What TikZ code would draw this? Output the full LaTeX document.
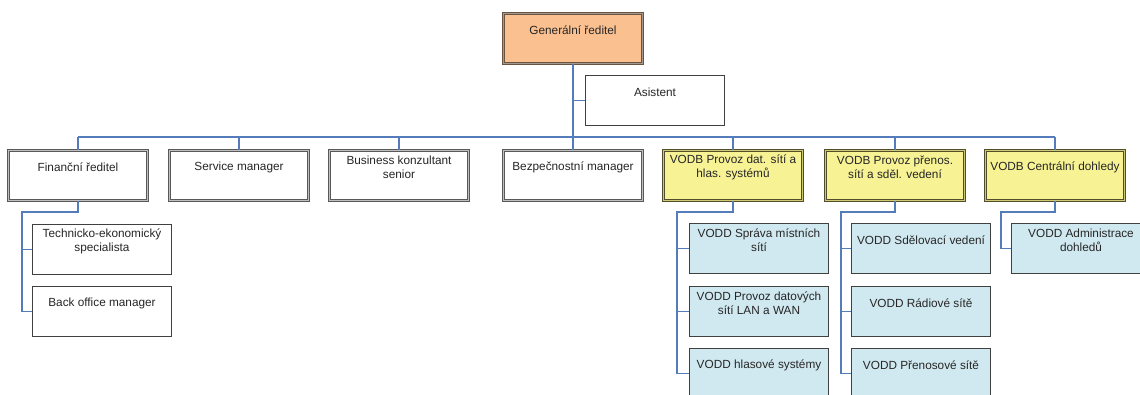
\documentclass[tikz,border=0pt]{standalone}
\usepackage{fontspec}
\setmainfont{Liberation Sans}
\usetikzlibrary{positioning}

\definecolor{linkblue}{RGB}{84,124,186}
\definecolor{ceofill}{RGB}{250,192,144}
\definecolor{ceoline}{RGB}{105,84,66}
\definecolor{vodbfill}{RGB}{247,242,148}
\definecolor{voddfill}{RGB}{208,233,240}
\definecolor{boxline}{RGB}{64,64,64}

\newcommand{\boxlbl}[1]{\parbox[b][34pt][c]{138pt}{\centering #1}}

\tikzset{
  unit/.style={rectangle, inner sep=0pt, minimum width=139pt, text height=34pt, text depth=16pt,
    anchor=north, font=\fontsize{11.8}{13.5}\selectfont, text=black!85},
  ceo/.style={unit, draw=ceoline, double=ceoline!60, double distance=1.2pt, line width=0.9pt, fill=ceofill},
  head/.style={unit, draw=black!65, double=gray!50, double distance=1.2pt, line width=0.8pt, fill=white},
  vodb/.style={head, fill=vodbfill, draw=black!55!olive, double=olive!45},
  sub/.style={unit, draw=boxline, line width=0.9pt, fill=white},
  vodd/.style={sub, fill=voddfill},
  link/.style={draw=linkblue, line width=1.3pt}
}

\begin{document}
\begin{tikzpicture}[x=1pt, y=-1pt]
\useasboundingbox (0,0) rectangle (1140,394);

% vedeni
\node[ceo] (gr) at (573,13) {\boxlbl{Generální ředitel}};
\node[sub] (asi) at (655,75) {\boxlbl{Asistent}};

% prvni uroven
\node[head] (fin) at (78,150) {\boxlbl{Finanční ředitel}};
\node[head] (srv) at (239,150) {\boxlbl{Service manager}};
\node[head] (bus) at (399,150) {\boxlbl{Business konzultant\\senior}};
\node[head] (bez) at (573,150) {\boxlbl{Bezpečnostní manager}};
\node[vodb] (dat) at (733,150) {\boxlbl{VODB Provoz dat. sítí a\\hlas. systémů}};
\node[vodb] (pre) at (895,150) {\boxlbl{VODB Provoz přenos.\\sítí a sděl. vedení}};
\node[vodb] (cen) at (1055,150) {\boxlbl{VODB Centrální dohledy}};

% podrizeni
\node[sub] (tek) at (102,224) {\boxlbl{Technicko-ekonomický\\specialista}};
\node[sub] (bof) at (102,286) {\boxlbl{Back office manager}};

\node[vodd] (spr) at (759,223) {\boxlbl{VODD Správa místních\\sítí}};
\node[vodd] (lan) at (759,286) {\boxlbl{VODD Provoz datových\\sítí LAN a WAN}};
\node[vodd] (hls) at (759,348) {\boxlbl{VODD hlasové systémy}};

\node[vodd] (sdv) at (921,223) {\boxlbl{VODD Sdělovací vedení}};
\node[vodd] (rad) at (921,286) {\boxlbl{VODD Rádiové sítě}};
\node[vodd] (prs) at (921,348) {\boxlbl{VODD Přenosové sítě}};

\node[vodd] (adm) at (1081,223) {\boxlbl{VODD Administrace\\dohledů}};

% spoje
\coordinate (rail) at (0,137);
\draw[link] (gr.south) -- (gr.south |- rail);
\draw[link] (asi.west) -- (asi.west -| gr.south);
\draw[link] (fin.north |- rail) -- (cen.north |- rail);
\foreach \n in {fin,srv,bus,bez,dat,pre,cen}
  \draw[link] (\n.north) -- (\n.north |- rail);

\coordinate (finsplit) at (22,212);
\draw[link] (fin.south) -- (fin.south |- finsplit) -- (finsplit) |- (tek.west);
\draw[link] (finsplit) |- (bof.west);

\coordinate (datsplit) at (677,212);
\draw[link] (dat.south) -- (dat.south |- datsplit) -- (datsplit) |- (spr.west);
\draw[link] (datsplit) |- (lan.west);
\draw[link] (datsplit) |- (hls.west);

\coordinate (presplit) at (841,212);
\draw[link] (pre.south) -- (pre.south |- presplit) -- (presplit) |- (sdv.west);
\draw[link] (presplit) |- (rad.west);
\draw[link] (presplit) |- (prs.west);

\coordinate (censplit) at (1001,212);
\draw[link] (cen.south) -- (cen.south |- censplit) -- (censplit) |- (adm.west);
\end{tikzpicture}
\end{document}
